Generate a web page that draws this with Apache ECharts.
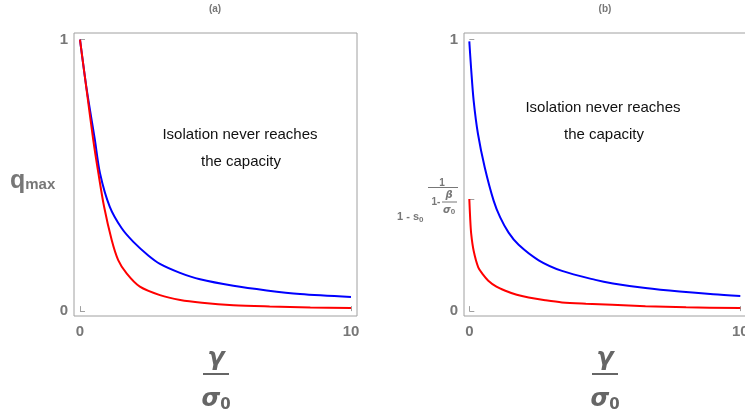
<!DOCTYPE html>
<html lang="en">
<head>
    <meta charset="UTF-8">
    <title>q_max vs gamma/sigma0</title>
    <script src="https://cdn.jsdelivr.net/npm/echarts@6/dist/echarts.min.js"></script>
    <style>
        html, body { margin: 0; padding: 0; background: #fff; }
    </style>
</head>
<body>
    <div id="main" style="width: 745px;height:416px;"></div>
    <script type="text/javascript">
        // panel (a)
        var aBlueX = [0, 0.25, 0.55, 0.74, 1.1, 1.54, 1.97, 2.52, 2.95, 3.69, 4.43, 5.66, 6.89, 8.12, 10];
        var aBlueY = [1.0, 0.815, 0.63, 0.507, 0.384, 0.305, 0.255, 0.205, 0.174, 0.141, 0.117, 0.093, 0.076, 0.063, 0.052];
        var aRedX = [0, 0.25, 0.49, 0.68, 0.89, 1.17, 1.41, 1.72, 2.21, 2.95, 3.7, 4.5, 5.66, 7, 8.5, 10];
        var aRedY = [1.0, 0.81, 0.63, 0.507, 0.384, 0.262, 0.188, 0.139, 0.09, 0.059, 0.041, 0.031, 0.022, 0.017, 0.013, 0.011];

        // panel (b)
        var bBlueX = [0, 0.063, 0.16, 0.32, 0.57, 0.9, 1.14, 1.45, 1.82, 2.56, 3.42, 4.65, 5.3, 6.5, 7.76, 9, 10];
        var bBlueY = [0.993, 0.898, 0.775, 0.652, 0.529, 0.406, 0.345, 0.289, 0.244, 0.187, 0.148, 0.115, 0.102, 0.085, 0.072, 0.062, 0.056];
        var bRedX = [0, 0.03, 0.07, 0.16, 0.33, 0.5, 0.7, 1.0, 1.33, 1.75, 2.19, 2.8, 3.42, 4.3, 5.27, 6.5, 8, 10];
        var bRedY = [0.413, 0.345, 0.284, 0.222, 0.161, 0.135, 0.112, 0.09, 0.075, 0.06, 0.05, 0.04, 0.032, 0.027, 0.023, 0.018, 0.014, 0.011];

        var xTicks = [0, 10];
        var yTicks = [0, 1];
        var bYTicks = [0, 0.413, 1];

        function pairs(xs, ys) {
            return xs.map(function (x, i) { return [x, ys[i]]; });
        }

        var gray = '#777';
        var frame = '#a0a0a0';

        function xAx(idx, min, max) {
            return {
                type: 'value', gridIndex: idx, min: min, max: max,
                axisLine: { show: false },
                splitLine: { show: false },
                axisTick: { show: true, inside: true, length: 5, customValues: xTicks, lineStyle: { color: frame } },
                axisLabel: { customValues: xTicks, margin: 8, color: gray, fontSize: 15, fontWeight: 'bold', fontFamily: 'Liberation Sans' }
            };
        }
        function yAx(idx, ticks) {
            return {
                type: 'value', gridIndex: idx, min: -0.018, max: 1.024,
                axisLine: { show: false },
                splitLine: { show: false },
                axisTick: { show: true, inside: true, length: 5, customValues: ticks, lineStyle: { color: frame } },
                axisLabel: { customValues: yTicks, margin: 6, color: gray, fontSize: 15, fontWeight: 'bold', fontFamily: 'Liberation Sans' }
            };
        }
        function curve(xi, data, color) {
            return {
                type: 'line', xAxisIndex: xi, yAxisIndex: xi, data: data,
                showSymbol: false, smooth: 0.3,
                lineStyle: { color: color, width: 2 }, silent: true
            };
        }
        function txt(x, y, s, font, fill, align) {
            return {
                type: 'text', x: x, y: y, silent: true,
                style: { text: s, font: font, fill: fill, textAlign: align || 'center', textVerticalAlign: 'middle' }
            };
        }
        function frac(cx) {
            return [
                txt(cx, 358, 'γ', 'italic bold 25px "DejaVu Sans"', '#666'),
                { type: 'line', shape: { x1: cx - 13, y1: 374, x2: cx + 13, y2: 374 }, style: { stroke: '#666', lineWidth: 2 } },
                {
                    type: 'text', x: cx, y: 400,
                    style: {
                        text: '{s|σ}{z|0}', textAlign: 'center', textVerticalAlign: 'middle',
                        rich: {
                            s: { font: 'italic bold 24px "DejaVu Sans"', fill: '#666' },
                            z: { font: 'bold 15px "DejaVu Sans"', fill: '#666', padding: [10, 0, 0, 0] }
                        }
                    }
                }
            ];
        }

        var annFont = '15px "Liberation Sans"';
        var graphics = [
            txt(215, 9, '(a)', 'bold 10px "Liberation Sans"', gray),
            txt(605, 9, '(b)', 'bold 10px "Liberation Sans"', gray),
            {
                type: 'text', x: 10, y: 181,
                style: {
                    text: '{q|q}{m|max}', textVerticalAlign: 'middle',
                    rich: {
                        q: { font: 'bold 25px "Liberation Sans"', fill: gray },
                        m: { font: 'bold 15px "Liberation Sans"', fill: gray, padding: [8, 0, 0, 0] }
                    }
                }
            },
            txt(240, 135, 'Isolation never reaches', annFont, '#111'),
            txt(241, 162, 'the capacity', annFont, '#111'),
            txt(603, 108, 'Isolation never reaches', annFont, '#111'),
            txt(604, 135, 'the capacity', annFont, '#111'),
            // exponent label of the (1 - s0)^(...) tick in panel (b)
            {
                type: 'text', x: 397, y: 217,
                style: {
                    text: '{b|1 - s}{z|0}', textVerticalAlign: 'middle',
                    rich: {
                        b: { font: 'bold 11px "Liberation Sans"', fill: gray },
                        z: { font: 'bold 8px "Liberation Sans"', fill: gray, padding: [5, 0, 0, 0] }
                    }
                }
            },
            txt(442, 183, '1', 'bold 10px "Liberation Sans"', gray),
            { type: 'line', shape: { x1: 428, y1: 187.5, x2: 458, y2: 187.5 }, style: { stroke: gray, lineWidth: 1 } },
            txt(436, 202, '1-', 'bold 10px "Liberation Sans"', gray),
            txt(449, 195, 'β', 'italic bold 10px "DejaVu Sans"', gray),
            { type: 'line', shape: { x1: 442, y1: 202, x2: 457, y2: 202 }, style: { stroke: gray, lineWidth: 1 } },
            {
                type: 'text', x: 449, y: 210,
                style: {
                    text: '{s|σ}{z|0}', textAlign: 'center', textVerticalAlign: 'middle',
                    rich: {
                        s: { font: 'italic bold 10px "DejaVu Sans"', fill: gray },
                        z: { font: 'bold 8px "Liberation Sans"', fill: gray, padding: [4, 0, 0, 0] }
                    }
                }
            }
        ].concat(frac(216), frac(605));

        var myChart = echarts.init(document.getElementById('main'));
        var option = {
            animation: false,
            grid: [
                { left: 74, top: 33, width: 283, height: 283, show: true, borderColor: frame, borderWidth: 1, outerBoundsMode: 'none' },
                { left: 464, top: 33, width: 283, height: 283, show: true, borderColor: frame, borderWidth: 1, outerBoundsMode: 'none' }
            ],
            xAxis: [xAx(0, -0.221, 10.222), xAx(1, -0.196, 10.247)],
            yAxis: [yAx(0, yTicks), yAx(1, bYTicks)],
            series: [
                curve(0, pairs(aBlueX, aBlueY), '#0000ff'),
                curve(0, pairs(aRedX, aRedY), '#ff0000'),
                curve(1, pairs(bBlueX, bBlueY), '#0000ff'),
                curve(1, pairs(bRedX, bRedY), '#ff0000')
            ],
            graphic: graphics
        };
        myChart.setOption(option);
    </script>
</body>
</html>
